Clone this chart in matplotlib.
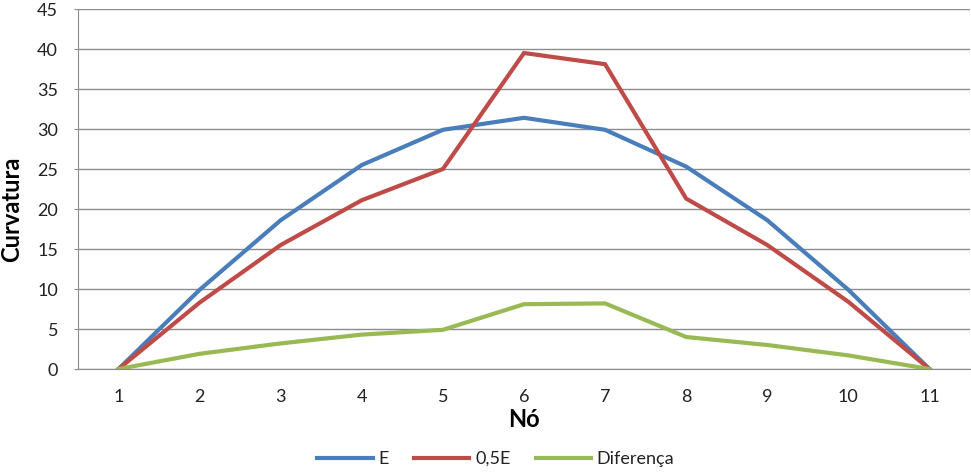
import matplotlib.pyplot as plt

plt.rcParams['font.family'] = ['Lato', 'DejaVu Sans']

nos = [1, 2, 3, 4, 5, 6, 7, 8, 9, 10, 11]
e_vals = [0, 9.9, 18.6, 25.5, 29.9, 31.4, 29.9, 25.3, 18.6, 9.9, 0]
meio_e = [0, 8.3, 15.5, 21.1, 25.0, 39.5, 38.1, 21.3, 15.5, 8.4, 0]
diferenca = [0, 1.9, 3.2, 4.3, 4.9, 8.1, 8.2, 4.0, 3.0, 1.7, 0]
y_ticks = [0, 5, 10, 15, 20, 25, 30, 35, 40, 45]

fig = plt.figure(figsize=(9.71, 4.73), dpi=100)
ax = fig.add_axes([78 / 971, 1 - 369 / 473, 892 / 971, 360 / 473])

ax.plot(nos, e_vals, color="#4A7EBB", lw=3, label="E", solid_joinstyle="miter")
ax.plot(nos, meio_e, color="#BE4B48", lw=3, label="0,5E", solid_joinstyle="miter")
ax.plot(nos, diferenca, color="#98B954", lw=3, label="Diferença", solid_joinstyle="miter")

ax.set_xlim(0.5, 11.5)
ax.set_ylim(0, 45)
ax.set_xticks(nos)
ax.set_yticks(y_ticks)
ax.yaxis.grid(True, color="#8C8C8C", lw=1)
ax.set_axisbelow(True)
for s in ["top", "right"]:
    ax.spines[s].set_visible(False)
for s in ["left", "bottom"]:
    ax.spines[s].set_color("#8C8C8C")
ax.tick_params(axis="y", length=3, color="#8C8C8C", labelsize=13, pad=11.4,
               labelcolor="#222222")
ax.tick_params(axis="x", length=0, labelsize=13, pad=14.5, labelcolor="#222222")

ax.set_xlabel("Nó", fontsize=17, fontweight="bold", va="top")
ax.xaxis.set_label_coords(0.5, -0.108)
ax.set_ylabel("Curvatura", fontsize=17, fontweight="bold")
ax.yaxis.set_label_coords(-0.062, 0.444)

ax.legend(loc="center", bbox_to_anchor=(0.4686, -0.25), ncol=3, frameon=False,
          fontsize=13, handlelength=3.05, handletextpad=0.33, columnspacing=1.4,
          labelcolor="#222222")

fig.savefig("out.png", dpi=100)
